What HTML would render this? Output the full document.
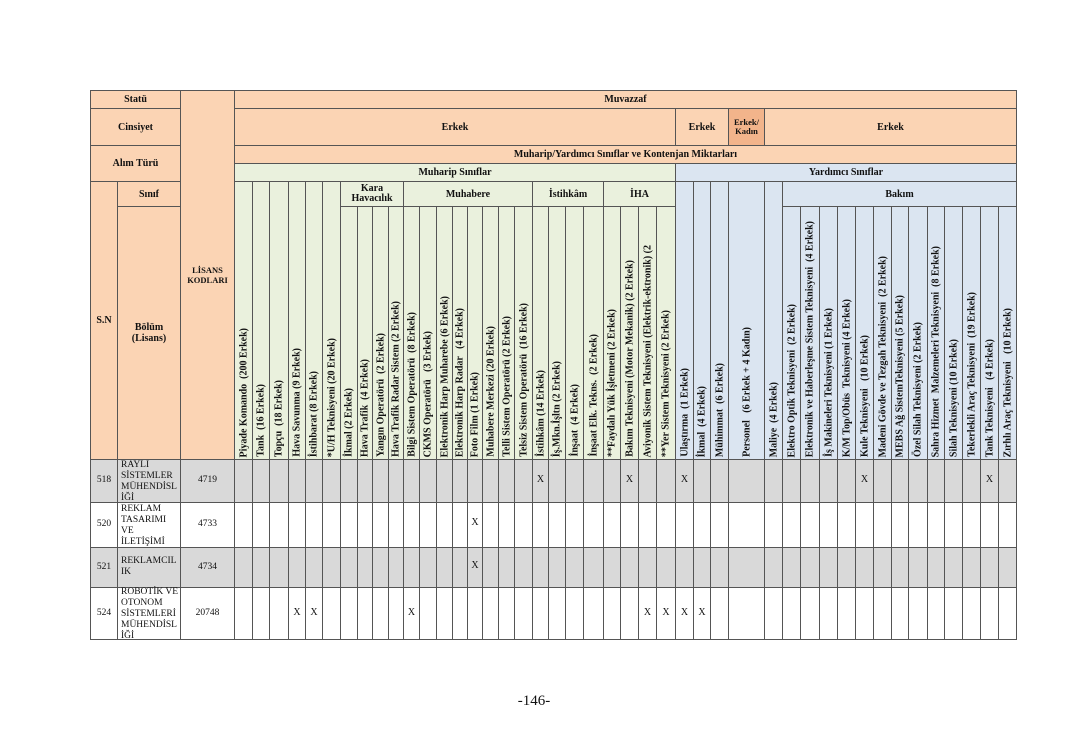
<!DOCTYPE html>
<html><head><meta charset="utf-8">
<style>
html,body{margin:0;padding:0;background:#fff;}
body{width:1068px;height:755px;position:relative;overflow:hidden;font-family:"Liberation Serif",serif;color:#111;}
.c{position:absolute;box-sizing:border-box;border:1px solid #555;display:flex;align-items:center;justify-content:center;text-align:center;font-weight:bold;font-size:10px;line-height:11px;overflow:hidden;}
.p{background:#FBD4B4}
.g{background:#EAF1DD}
.b{background:#DBE5F1}
.k{background:#F2B48B}
.v{display:block;}
.v span{position:absolute;bottom:2px;left:50%;writing-mode:vertical-rl;transform:translateX(-50%) rotate(180deg);white-space:pre;font-size:10px;line-height:11px;}
.hl{position:absolute;height:1px;background:#555;left:90px;width:927px;}
.vl{position:absolute;width:1px;background:#555;top:459px;height:181px;}
.rb{position:absolute;left:90px;width:927px;}
.t{position:absolute;display:flex;align-items:center;font-size:9.5px;line-height:11px;font-weight:normal;}
.x{position:absolute;font-size:10px;text-align:center;line-height:12px;}
</style></head><body>

<!-- left header -->
<div class="c p" style="left:90px;top:90px;width:91px;height:19px">Statü</div>
<div class="c p" style="left:90px;top:108px;width:91px;height:38px">Cinsiyet</div>
<div class="c p" style="left:90px;top:145px;width:91px;height:37px">Alım Türü</div>
<div class="c p" style="left:90px;top:181px;width:28px;height:279px">S.N</div>
<div class="c p" style="left:117px;top:181px;width:64px;height:26px">Sınıf</div>
<div class="c p" style="left:117px;top:206px;width:64px;height:254px;padding-top:0px">Bölüm<br>(Lisans)</div>
<div class="c p" style="left:180px;top:90px;width:55px;height:370px;font-size:8.5px;line-height:10px">LİSANS<br>KODLARI</div>

<!-- top header -->
<div class="c p" style="left:234px;top:90px;width:783px;height:19px">Muvazzaf</div>
<div class="c p" style="left:234px;top:108px;width:442px;height:38px">Erkek</div>
<div class="c p" style="left:675px;top:108px;width:54px;height:38px">Erkek</div>
<div class="c k" style="left:728px;top:108px;width:37px;height:38px;font-size:8.5px;line-height:9.5px">Erkek/<br>Kadın</div>
<div class="c p" style="left:764px;top:108px;width:253px;height:38px">Erkek</div>
<div class="c p" style="left:234px;top:145px;width:783px;height:19px">Muharip/Yardımcı Sınıflar ve Kontenjan Miktarları</div>
<div class="c g" style="left:234px;top:163px;width:442px;height:19px">Muharip Sınıflar</div>
<div class="c b" style="left:675px;top:163px;width:342px;height:19px">Yardımcı Sınıflar</div>
<div class="c g" style="left:340px;top:181px;width:64px;height:26px;line-height:10px">Kara<br>Havacılık</div>
<div class="c g" style="left:403px;top:181px;width:130px;height:26px">Muhabere</div>
<div class="c g" style="left:532px;top:181px;width:72px;height:26px">İstihkâm</div>
<div class="c g" style="left:603px;top:181px;width:73px;height:26px">İHA</div>
<div class="c b" style="left:782px;top:181px;width:235px;height:26px">Bakım</div>

<!-- vertical headers -->
<div class="c g v" style="left:234px;top:181px;width:19px;height:279px"><span>Piyade Komando  (200 Erkek)</span></div>
<div class="c g v" style="left:252px;top:181px;width:18px;height:279px"><span>Tank  (16 Erkek)</span></div>
<div class="c g v" style="left:269px;top:181px;width:20px;height:279px"><span>Topçu  (18 Erkek)</span></div>
<div class="c g v" style="left:288px;top:181px;width:18px;height:279px"><span>Hava Savunma (9 Erkek)</span></div>
<div class="c g v" style="left:305px;top:181px;width:18px;height:279px"><span>İstihbarat (8 Erkek)</span></div>
<div class="c g v" style="left:322px;top:181px;width:19px;height:279px"><span>*U/H Teknisyeni (20 Erkek)</span></div>
<div class="c g v" style="left:340px;top:206px;width:18px;height:254px"><span>İkmal (2 Erkek)</span></div>
<div class="c g v" style="left:357px;top:206px;width:16px;height:254px"><span>Hava Trafik  (4 Erkek)</span></div>
<div class="c g v" style="left:372px;top:206px;width:17px;height:254px"><span>Yangın Operatörü  (2 Erkek)</span></div>
<div class="c g v" style="left:388px;top:206px;width:16px;height:254px"><span>Hava Trafik Radar Sistem (2 Erkek)</span></div>
<div class="c g v" style="left:403px;top:206px;width:17px;height:254px"><span>Bilgi Sistem Operatörü  (8 Erkek)</span></div>
<div class="c g v" style="left:419px;top:206px;width:18px;height:254px"><span>CKMS Operatörü   (3 Erkek)</span></div>
<div class="c g v" style="left:436px;top:206px;width:17px;height:254px"><span>Elektronik Harp Muharebe (6 Erkek)</span></div>
<div class="c g v" style="left:452px;top:206px;width:16px;height:254px"><span>Elektronik Harp Radar   (4 Erkek)</span></div>
<div class="c g v" style="left:467px;top:206px;width:16px;height:254px"><span>Foto Film (1 Erkek)</span></div>
<div class="c g v" style="left:482px;top:206px;width:17px;height:254px"><span>Muhabere Merkezi (20 Erkek)</span></div>
<div class="c g v" style="left:498px;top:206px;width:17px;height:254px"><span>Telli Sistem Operatörü (2 Erkek)</span></div>
<div class="c g v" style="left:514px;top:206px;width:19px;height:254px"><span>Telsiz Sistem Operatörü  (16 Erkek)</span></div>
<div class="c g v" style="left:532px;top:206px;width:17px;height:254px"><span>İstihkâm (14 Erkek)</span></div>
<div class="c g v" style="left:548px;top:206px;width:18px;height:254px"><span>İş.Mkn.İşltn (2 Erkek)</span></div>
<div class="c g v" style="left:565px;top:206px;width:19px;height:254px"><span>İnşaat  (4 Erkek)</span></div>
<div class="c g v" style="left:583px;top:206px;width:21px;height:254px"><span>İnşaat Elk. Tekns.  (2 Erkek)</span></div>
<div class="c g v" style="left:603px;top:206px;width:18px;height:254px"><span>**Faydalı Yük İşletmeni (2 Erkek)</span></div>
<div class="c g v" style="left:620px;top:206px;width:19px;height:254px"><span>Bakım Teknisyeni (Motor Mekanik) (2 Erkek)</span></div>
<div class="c g v" style="left:638px;top:206px;width:19px;height:254px"><span>Aviyonik Sistem Teknisyeni (Elektrik-ektronik) (2</span></div>
<div class="c g v" style="left:656px;top:206px;width:20px;height:254px"><span>**Yer Sistem Teknisyeni (2 Erkek)</span></div>
<div class="c b v" style="left:675px;top:181px;width:19px;height:279px"><span>Ulaştırma  (1 Erkek)</span></div>
<div class="c b v" style="left:693px;top:181px;width:18px;height:279px"><span>İkmal  (4 Erkek)</span></div>
<div class="c b v" style="left:710px;top:181px;width:19px;height:279px"><span>Mühimmat  (6 Erkek)</span></div>
<div class="c b v" style="left:728px;top:181px;width:37px;height:279px"><span>Personel   (6 Erkek + 4 Kadın)</span></div>
<div class="c b v" style="left:764px;top:181px;width:19px;height:279px"><span>Maliye  (4 Erkek)</span></div>
<div class="c b v" style="left:782px;top:206px;width:19px;height:254px"><span>Elektro Optik Teknisyeni  (2 Erkek)</span></div>
<div class="c b v" style="left:800px;top:206px;width:20px;height:254px"><span>Elektronik ve Haberleşme Sistem Teknisyeni  (4 Erkek)</span></div>
<div class="c b v" style="left:819px;top:206px;width:19px;height:254px"><span>İş Makineleri Teknisyeni (1 Erkek)</span></div>
<div class="c b v" style="left:837px;top:206px;width:19px;height:254px"><span>K/M Top/Obüs  Teknisyeni (4 Erkek)</span></div>
<div class="c b v" style="left:855px;top:206px;width:19px;height:254px"><span>Kule Teknisyeni   (10 Erkek)</span></div>
<div class="c b v" style="left:873px;top:206px;width:19px;height:254px"><span>Madeni Gövde ve Tezgah Teknisyeni  (2 Erkek)</span></div>
<div class="c b v" style="left:891px;top:206px;width:18px;height:254px"><span>MEBS Ağ SistemTeknisyeni (5 Erkek)</span></div>
<div class="c b v" style="left:908px;top:206px;width:20px;height:254px"><span>Özel Silah Teknisyeni (2 Erkek)</span></div>
<div class="c b v" style="left:927px;top:206px;width:18px;height:254px"><span>Sahra Hizmet  Malzemeleri Teknisyeni  (8 Erkek)</span></div>
<div class="c b v" style="left:944px;top:206px;width:19px;height:254px"><span>Silah Teknisyeni (10 Erkek)</span></div>
<div class="c b v" style="left:962px;top:206px;width:19px;height:254px"><span>Tekerlekli Araç Teknisyeni  (19 Erkek)</span></div>
<div class="c b v" style="left:980px;top:206px;width:19px;height:254px"><span>Tank Teknisyeni   (4 Erkek)</span></div>
<div class="c b v" style="left:998px;top:206px;width:19px;height:254px"><span>Zırhlı Araç Teknisyeni   (10 Erkek)</span></div>

<!-- data rows backgrounds -->
<div class="rb" style="top:459px;height:43px;background:#D9D9D9"></div>
<div class="rb" style="top:502px;height:45px;background:#fff"></div>
<div class="rb" style="top:547px;height:40px;background:#D9D9D9"></div>
<div class="rb" style="top:587px;height:52px;background:#fff"></div>

<!-- horizontal lines -->
<div class="hl" style="top:459px"></div>
<div class="hl" style="top:502px"></div>
<div class="hl" style="top:547px"></div>
<div class="hl" style="top:587px"></div>
<div class="hl" style="top:639px"></div>

<!-- vertical lines -->
<div class="vl" style="left:90px"></div><div class="vl" style="left:117px"></div><div class="vl" style="left:180px"></div><div class="vl" style="left:234px"></div>
<div class="vl" style="left:252px"></div><div class="vl" style="left:269px"></div><div class="vl" style="left:288px"></div><div class="vl" style="left:305px"></div>
<div class="vl" style="left:322px"></div><div class="vl" style="left:340px"></div><div class="vl" style="left:357px"></div><div class="vl" style="left:372px"></div>
<div class="vl" style="left:388px"></div><div class="vl" style="left:403px"></div><div class="vl" style="left:419px"></div><div class="vl" style="left:436px"></div>
<div class="vl" style="left:452px"></div><div class="vl" style="left:467px"></div><div class="vl" style="left:482px"></div><div class="vl" style="left:498px"></div>
<div class="vl" style="left:514px"></div><div class="vl" style="left:532px"></div><div class="vl" style="left:548px"></div><div class="vl" style="left:565px"></div>
<div class="vl" style="left:583px"></div><div class="vl" style="left:603px"></div><div class="vl" style="left:620px"></div><div class="vl" style="left:638px"></div>
<div class="vl" style="left:656px"></div><div class="vl" style="left:675px"></div><div class="vl" style="left:693px"></div><div class="vl" style="left:710px"></div>
<div class="vl" style="left:728px"></div><div class="vl" style="left:764px"></div><div class="vl" style="left:782px"></div><div class="vl" style="left:800px"></div>
<div class="vl" style="left:819px"></div><div class="vl" style="left:837px"></div><div class="vl" style="left:855px"></div><div class="vl" style="left:873px"></div>
<div class="vl" style="left:891px"></div><div class="vl" style="left:908px"></div><div class="vl" style="left:927px"></div><div class="vl" style="left:944px"></div>
<div class="vl" style="left:962px"></div><div class="vl" style="left:980px"></div><div class="vl" style="left:998px"></div><div class="vl" style="left:1016px"></div>

<!-- row 518 -->
<div class="t" style="left:91px;top:459px;width:26px;height:43px;justify-content:center">518</div>
<div class="t" style="left:121px;top:460px;width:59px;height:43px">RAYLI<br>SİSTEMLER<br>MÜHENDİSL<br>İĞİ</div>
<div class="t" style="left:181px;top:459px;width:53px;height:43px;justify-content:center">4719</div>
<!-- row 520 -->
<div class="t" style="left:91px;top:502px;width:26px;height:45px;justify-content:center">520</div>
<div class="t" style="left:121px;top:503px;width:59px;height:45px">REKLAM<br>TASARIMI<br>VE<br>İLETİŞİMİ</div>
<div class="t" style="left:181px;top:502px;width:53px;height:45px;justify-content:center">4733</div>
<!-- row 521 -->
<div class="t" style="left:91px;top:547px;width:26px;height:40px;justify-content:center">521</div>
<div class="t" style="left:121px;top:547px;width:59px;height:40px">REKLAMCIL<br>IK</div>
<div class="t" style="left:181px;top:547px;width:53px;height:40px;justify-content:center">4734</div>
<!-- row 524 -->
<div class="t" style="left:91px;top:587px;width:26px;height:52px;justify-content:center">524</div>
<div class="t" style="left:121px;top:588px;width:59px;height:52px">ROBOTİK VE<br>OTONOM<br>SİSTEMLERİ<br>MÜHENDİSL<br>İĞİ</div>
<div class="t" style="left:181px;top:587px;width:53px;height:52px;justify-content:center">20748</div>

<!-- X marks -->
<div class="x" style="left:532px;top:474px;width:17px">X</div>
<div class="x" style="left:620px;top:474px;width:19px">X</div>
<div class="x" style="left:675px;top:474px;width:19px">X</div>
<div class="x" style="left:855px;top:474px;width:19px">X</div>
<div class="x" style="left:980px;top:474px;width:19px">X</div>

<div class="x" style="left:467px;top:517px;width:16px">X</div>
<div class="x" style="left:467px;top:560px;width:16px">X</div>

<div class="x" style="left:288px;top:607px;width:18px">X</div>
<div class="x" style="left:305px;top:607px;width:18px">X</div>
<div class="x" style="left:403px;top:607px;width:17px">X</div>
<div class="x" style="left:638px;top:607px;width:19px">X</div>
<div class="x" style="left:656px;top:607px;width:20px">X</div>
<div class="x" style="left:675px;top:607px;width:19px">X</div>
<div class="x" style="left:693px;top:607px;width:18px">X</div>

<!-- page number -->
<div style="position:absolute;left:484px;top:692px;width:100px;text-align:center;font-size:15px;line-height:18px;">-146-</div>

</body></html>
